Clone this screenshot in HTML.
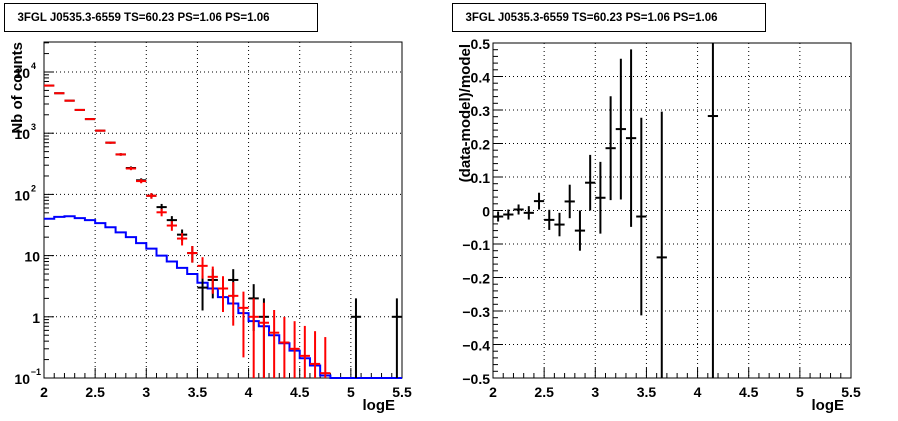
<!DOCTYPE html>
<html><head><meta charset="utf-8"><style>
body{margin:0;background:#fff}
svg{display:block;font-family:"Liberation Sans",sans-serif;font-weight:bold}
</style></head><body>
<svg id="c" width="898" height="421" xmlns="http://www.w3.org/2000/svg"></svg>
<script>
const binCenters=[2.05,2.15,2.25,2.35,2.45,2.55,2.65,2.75,2.85,2.95,3.05,3.15,3.25,3.35,3.45,3.55,3.65,3.75,3.85,3.95,4.05,4.15,4.25,4.35,4.45,4.55,4.65,4.75,4.85,4.95,5.05,5.15,5.25,5.35,5.45];
const dataCounts=[6000,4500,3400,2400,1700,1100,700,450,270,170,95,62,38,22,11,3,4,0,4,0,2,1,0,0,0,0,0,0,0,0,1,0,0,0,1];
const modelCounts=[6000,4500,3400,2400,1700,1100,700,450,265,165,95,51,31,19,11,6.8,4.5,2.9,2.2,1.4,1.0,0.8,0.55,0.38,0.3,0.23,0.17,0.12,0,0,0,0,0,0,0];
const sourceCounts=[40,43,44,41,38,34,29,24,20,16,13,10,8,6.3,5,3.6,2.9,2.1,1.65,1.15,0.85,0.7,0.5,0.37,0.28,0.21,0.16,0.11,0.1,0.1,0.1,0.1,0.1,0.1,0.1];
const resX=[2.05,2.15,2.25,2.35,2.45,2.55,2.65,2.75,2.85,2.95,3.05,3.15,3.25,3.35,3.45,3.65,4.15];
const resVal=[-0.018,-0.012,0.003,-0.007,0.028,-0.028,-0.042,0.027,-0.06,0.083,0.038,0.186,0.243,0.216,-0.018,-0.14,0.282];
const resErr=[0.015,0.015,0.015,0.02,0.025,0.03,0.035,0.05,0.06,0.083,0.107,0.155,0.21,0.265,0.295,0.435,1.5];
const xTicks=[2,2.5,3,3.5,4,4.5,5,5.5];
const xTickLabels=["2","2.5","3","3.5","4","4.5","5","5.5"];
const resTicks=[-0.5,-0.4,-0.3,-0.2,-0.1,0,0.1,0.2,0.3,0.4,0.5];
const resTickLabels=["\u22120.5","\u22120.4","\u22120.3","\u22120.2","\u22120.1","0","0.1","0.2","0.3","0.4","0.5"];
const title="3FGL J0535.3-6559 TS=60.23 PS=1.06 PS=1.06";

const NS="http://www.w3.org/2000/svg",svg=document.getElementById('c');
function el(t,a,p){const e=document.createElementNS(NS,t);for(const k in a)e.setAttribute(k,a[k]);(p||svg).appendChild(e);return e;}
function line(x1,y1,x2,y2,st,w,g,dash){const a={x1,y1,x2,y2,stroke:st,'stroke-width':w};if(dash)a['stroke-dasharray']=dash;return el('line',a,g);}
function text(s,x,y,anchor,size,g){const t=el('text',{x,y,'text-anchor':anchor,'font-size':size},g);t.textContent=s;return t;}

// Left panel
const L={l:44,r:402,t:42,b:378};
const lx=v=>L.l+(v-2)/3.5*(L.r-L.l);
const ly=v=>L.b-(Math.log10(Math.max(v,0.1))+1)*61.2;
// Right panel
const R={l:493,r:851,t:43,b:378};
const rx=v=>R.l+(v-2)/3.5*(R.r-R.l);
const ry=v=>R.b-(Math.max(-0.5,Math.min(0.5,v))+0.5)*(R.b-R.t);

function titleBox(x,name){
  const g=el('g',{});
  el('rect',{x:x,y:3.5,width:313,height:28,fill:'#fff',stroke:'#000','stroke-width':1},g);
  text(title,x+13,21,'start',11.5,g);
}
titleBox(4.5,'left-title');titleBox(452.5,'right-title');

function xAxis(P,fx,name){
  const g=el('g',{});
  for(let i=0;i<=35;i++){const v=2+i*0.1,x=fx(v);line(x,P.b,x,P.b-(i%5==0?10:5),'#000',1,g);}
  xTicks.forEach((v,i)=>{const x=fx(v);if(i>0&&i<xTicks.length-1)line(x,P.t,x,P.b,'#000',1,g,'1,3');text(xTickLabels[i],x,P.b+19,'middle',14,g);});
  text('logE',P.r-7,P.b+32,'end',15,g);
}
// Left grid & y axis
(function(){
  const g=el('g',{});
  for(let d=-1;d<=4;d++){for(let m=1;m<=9;m++){const v=m*Math.pow(10,d),y=ly(v);if(y<L.t)continue;line(L.l,y,L.l+(m==1?10:5),y,'#000',1,g);}}
  const labs=[[0.1,'10','\u22121'],[1,'1'],[10,'10'],[100,'10','2'],[1000,'10','3'],[10000,'10','4']];
  labs.forEach(([v,b,e])=>{const y=ly(v);if(v>0.1)line(L.l,y,L.r,y,'#000',1,g,'1,3');
    if(e){const t=text(b,e?30:40,y+6,'end',14,g);const s=text(e,e.length>1?41:36,y-3,'end',9,g);}else text(b,40,y+6,'end',14,g);});
  const t=text('Nb of counts',0,0,'end',15,g);t.setAttribute('transform','translate(22,42) rotate(-90)');
})();
xAxis(L,lx,'left-x-axis');
el('rect',{x:L.l,y:L.t,width:L.r-L.l,height:L.b-L.t,fill:'none',stroke:'#000','stroke-width':1});

// blue step
(function(){
  let d='';binCenters.forEach((c,i)=>{const y=ly(sourceCounts[i]);d+=(i?'L':'M')+lx(c-0.05)+','+y+'L'+lx(c+0.05)+','+y;});
  const p=el('path',{d,fill:'none',stroke:'#0000ff','stroke-width':2});
  
})();
function cross(g,x1,x2,xc,yc,y1,y2,col){line(x1,yc,x2,yc,col,2,g);line(xc,y1,xc,y2,col,2,g);}
(function(){
  const g=el('g',{});
  binCenters.forEach((c,i)=>{const n=dataCounts[i];if(n<=0)return;const e=Math.sqrt(n);
    cross(g,lx(c-0.05),lx(c+0.05),lx(c),ly(n),ly(n+e),n-e>0.1?ly(n-e):L.b,'#000');});
  const g2=el('g',{});
  binCenters.forEach((c,i)=>{const n=modelCounts[i];if(n<=0)return;const e=Math.sqrt(n);
    cross(g2,lx(c-0.05),lx(c+0.05),lx(c),ly(n),ly(n+e),n-e>0.1?ly(n-e):L.b,'#ff0000');});
})();

// Right panel
(function(){
  const g=el('g',{});
  for(let i=0;i<=50;i++){const v=-0.5+i*0.02,y=ry(v);line(R.l,y,R.l+(i%5==0?10:5),y,'#000',1,g);}
  resTicks.forEach((v,i)=>{const y=ry(v);if(i>0&&i<resTicks.length-1)line(R.l,y,R.r,y,'#000',1,g,'1,3');text(resTickLabels[i],490,y+6,'end',14,g);});
  const t=text('(data-model)/model',0,0,'end',15,g);t.setAttribute('transform','translate(470,44) rotate(-90)');
})();
xAxis(R,rx,'right-x-axis');
el('rect',{x:R.l,y:R.t,width:R.r-R.l,height:R.b-R.t,fill:'none',stroke:'#000','stroke-width':1});
(function(){
  const g=el('g',{});
  resX.forEach((c,i)=>{const v=resVal[i],e=resErr[i];cross(g,rx(c-0.05),rx(c+0.05),rx(c),ry(v),ry(v+e),ry(v-e),'#000');});
})();
</script>
</body></html>
